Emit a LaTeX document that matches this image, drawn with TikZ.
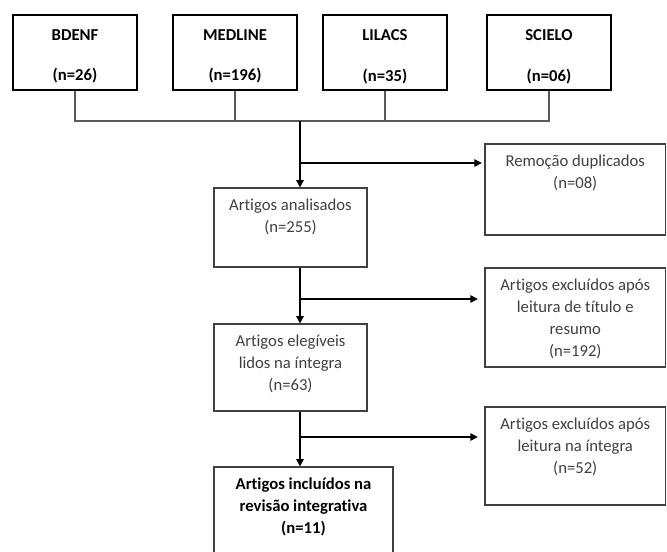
\documentclass[tikz,border=0pt]{standalone}
\usepackage{fontspec}
\setmainfont[Ligatures=NoCommon]{Carlito}
\usetikzlibrary{arrows.meta}
\definecolor{txtgray}{RGB}{64,64,64}
\def\flowfont{\fontsize{12.5}{16.5}\selectfont}
\tikzset{
	dbbox/.style={draw=black, line width=1pt, minimum width=93pt, minimum height=56.25pt},
	dbtext/.style={align=center, font=\flowfont\bfseries, inner sep=0pt},
	stepbox/.style={draw=black!75, line width=0.8pt},
	steptext/.style={align=center, anchor=north, inner sep=0pt, text=txtgray, font=\flowfont, execute at begin node=\strut},
	link/.style={draw=black!65, line width=0.8pt},
	flow/.style={line width=1.1pt, -{Triangle[length=5.5pt,width=5.5pt]}},
}

\begin{document}
\begin{tikzpicture}[x=0.75pt, y=-0.75pt]
		%%%%% START %%%%%
		\useasboundingbox (0,0) rectangle (667,551);
		\clip (0,0) rectangle (667,551);
		
		% bases de dados
		\node[dbbox] (bdenf) at (75,52.5) {};
		\node[dbtext] (bdenftext) at ([yshift=-3pt]bdenf.center) {BDENF\\[14pt](n=26)};
		\node[dbbox] (medline) at (235,52.5) {};
		\node[dbtext] (medlinetext) at ([yshift=-3pt]medline.center) {MEDLINE\\[14pt](n=196)};
		\node[dbbox] (lilacs) at (385,52.5) {};
		\node[dbtext] (lilacstext) at ([yshift=-3pt]lilacs.center) {LILACS\\[14pt](n=35)};
		\node[dbbox] (scielo) at (549,52.5) {};
		\node[dbtext] (scielotext) at ([yshift=-3pt]scielo.center) {SCIELO\\[14pt](n=06)};
		
		\coordinate (join) at (300,121);
		\draw[link] (bdenf.south) -- (bdenf.south |- join) -- (scielo.south |- join) -- (scielo.south);
		\draw[link] (medline.south) -- (medline.south |- join);
		\draw[link] (lilacs.south) -- (lilacs.south |- join);
		
		% fluxo principal
		\node[stepbox, minimum width=114.75pt, minimum height=59.25pt] (ana) at (290.5,227.5) {};
		\node[steptext] (anatext) at ([yshift=-8.5pt]ana.north) {Artigos analisados\\(n=255)};
		
		\node[stepbox, minimum width=114.75pt, minimum height=65.25pt] (eleg) at (290.5,367.5) {};
		\node[steptext] (elegtext) at ([yshift=-8.5pt]eleg.north) {Artigos elegíveis\\lidos na íntegra\\(n=63)};
		
		\node[stepbox, minimum width=134.25pt, minimum height=75pt] (incl) at (303.5,517) {};
		\node[steptext, text=black, font=\flowfont\bfseries] (incltext) at ([yshift=-8.5pt]incl.north) {Artigos incluídos na\\revisão integrativa\\(n=11)};
		
		% exclusoes
		\node[stepbox, minimum width=135.4pt, minimum height=68.25pt] (rem) at (575.25,189.5) {};
		\node[steptext] (remtext) at ([yshift=-8.5pt]rem.north) {Remoção duplicados\\(n=08)};
		
		\node[stepbox, minimum width=135.4pt, minimum height=74.25pt] (exc1) at (575.25,317.5) {};
		\node[steptext] (exc1text) at ([yshift=-8.5pt]exc1.north) {Artigos excluídos após\\leitura de título e\\resumo\\(n=192)};
		
		\node[stepbox, minimum width=135.4pt, minimum height=73.5pt] (exc2) at (575.25,456) {};
		\node[steptext] (exc2text) at ([yshift=-8.5pt]exc2.north) {Artigos excluídos após\\leitura na íntegra\\(n=52)};
		
		% setas
		\draw[flow] (join) -- (join |- ana.north);
		\coordinate (b1) at (300,163);
		\draw[flow, shorten >=2pt] (b1) -- (b1 -| rem.west);
		
		\draw[flow] (ana.south -| join) -- (eleg.north -| join);
		\coordinate (b2) at (300,299);
		\draw[flow, shorten >=5pt] (b2) -- (b2 -| exc1.west);
		
		\draw[flow] (eleg.south -| join) -- (incl.north -| join);
		\coordinate (b3) at (300,437);
		\draw[flow, shorten >=5pt] (b3) -- (b3 -| exc2.west);
		%%%%% END %%%%%
\end{tikzpicture}
\end{document}
